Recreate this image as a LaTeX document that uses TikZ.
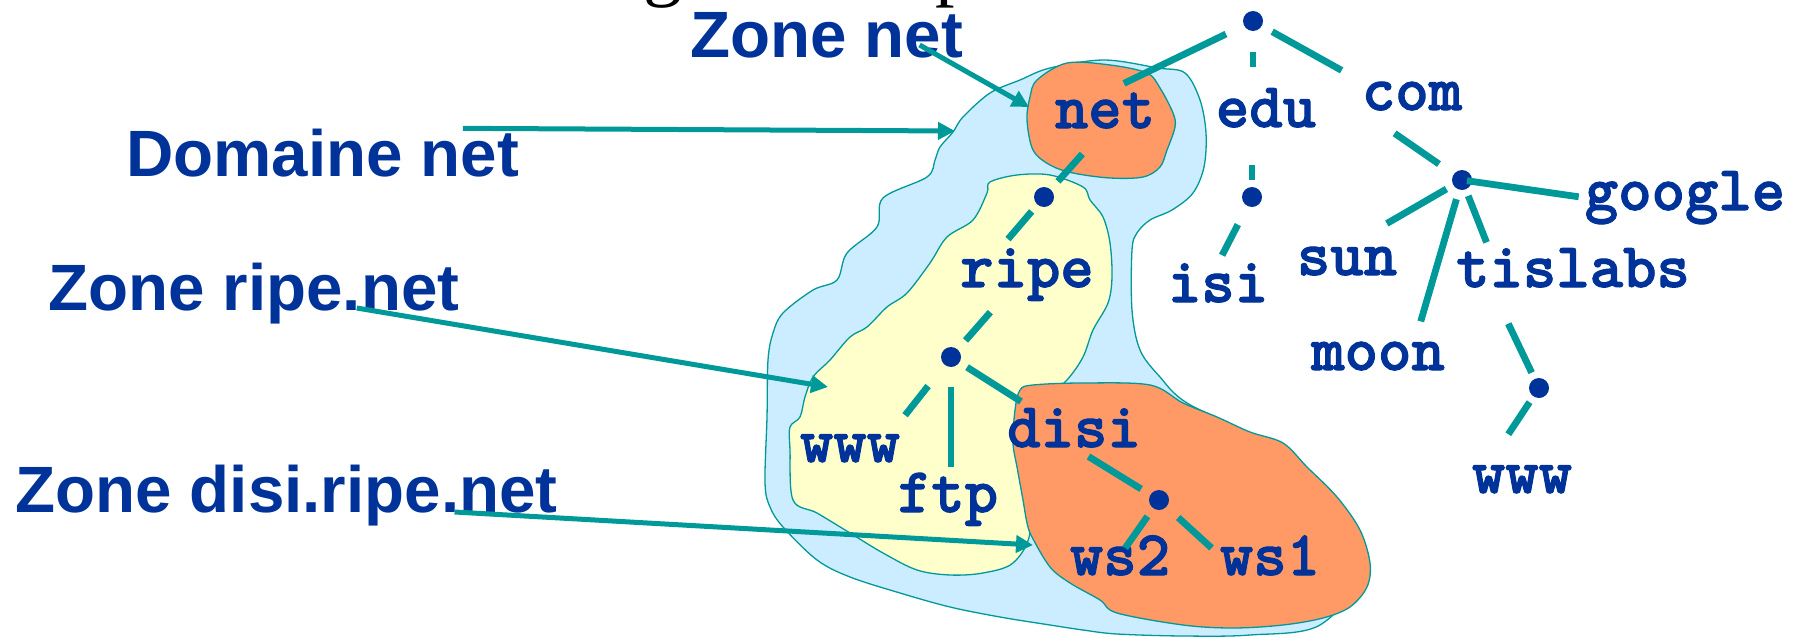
\documentclass[tikz,border=0pt]{standalone}
\usepackage{fontspec}
\newfontfamily\zonefont{Liberation Sans}
\newfontfamily\titlefont{Liberation Serif}
\newfontfamily\hostfont{lmmonolt10-bold.otf}[FakeBold=1.6]
\usetikzlibrary{arrows.meta,calc}
\definecolor{tealline}{HTML}{009999}
\definecolor{navytext}{HTML}{003399}
\definecolor{skyfill}{HTML}{CCECFF}
\definecolor{creamfill}{HTML}{FFFFCC}
\definecolor{salmonfill}{HTML}{FF9966}
\begin{document}
\begin{tikzpicture}[x=1pt,y=-1pt,
  zone/.style={font=\zonefont\bfseries\fontsize{65.5}{70}\selectfont, text=navytext, inner sep=0pt, anchor=base west},
  host/.style={font=\hostfont\fontsize{63.6}{70}\selectfont, text=navytext, inner sep=0pt, anchor=base},
  titlefrag/.style={font=\titlefont\fontsize{78}{80}\selectfont, text=black, inner sep=0pt, anchor=base west},
  dot/.style={circle, fill=navytext, minimum size=20pt, inner sep=0pt},
  branch/.style={draw=tealline, line width=6.8pt},
  pointer/.style={draw=tealline, line width=5pt, -{Triangle[length=17pt,width=17pt]}},
  blob/.style={draw=tealline, line width=1.3pt},
]
\useasboundingbox (0,0) rectangle (1802,637);
\clip (0,0) rectangle (1802,637);
\fill[white] (0,0) rectangle (1802,637);

% heading, only its lower part is inside the frame
\node[titlefrag] (tg) at (643,-9) {g};
\node[titlefrag] (tp) at (935,-9) {p};

% domain net
\filldraw[blob, fill=skyfill] plot[smooth cycle, tension=0.55] coordinates {
  (990,93) (1020,80) (1050,68) (1104,60) (1158,68) (1185,73) (1200,100)
  (1206,133) (1204,167) (1193,193) (1172,210) (1150,220) (1137,233)
  (1132,250) (1132,310) (1140,350) (1160,377) (1187,403) (1260,440)
  (1330,500) (1360,570) (1320,625) (1250,635) (1183,636) (1117,634)
  (1083,630) (1050,625) (1000,617) (950,607) (900,593) (850,577)
  (817,560) (783,527) (770,507) (765,483) (767,417) (768,360) (773,333)
  (783,313) (813,290) (837,280) (847,253) (877,227) (883,198) (927,177)
  (935,160) (940,147) (953,132) (963,117)};
% zone ripe.net
\filldraw[blob, fill=creamfill] plot[smooth cycle, tension=0.55] coordinates {
  (990,182) (1017,175) (1050,175) (1083,187) (1090,200) (1103,217)
  (1110,243) (1112,277) (1108,303) (1093,330) (1083,357) (1067,380)
  (1045,400) (1030,430) (1027,480) (1030,533) (1013,563) (983,573)
  (950,575) (917,570) (883,553) (850,533) (817,513) (793,500) (790,450)
  (790,427) (800,417) (805,397) (813,377) (830,360) (850,337) (867,327)
  (887,307) (907,293) (930,263) (947,237) (973,220) (987,193)};
% zone net
\filldraw[blob, fill=salmonfill] plot[smooth cycle, tension=0.55] coordinates {
  (1027,120) (1030,97) (1037,80) (1067,63) (1110,65) (1147,73) (1160,88)
  (1173,113) (1175,127) (1167,150) (1160,167) (1143,177) (1110,178)
  (1073,173) (1050,165) (1033,150)};
% zone disi.ripe.net
\filldraw[blob, fill=salmonfill] plot[smooth cycle, tension=0.55] coordinates {
  (1020,390) (1033,385) (1083,383) (1150,385) (1183,403) (1217,417)
  (1250,432) (1283,443) (1307,467) (1337,497) (1360,530) (1370,563)
  (1367,587) (1350,607) (1323,618) (1283,625) (1233,628) (1183,625)
  (1117,613) (1100,600) (1070,583) (1050,567) (1032,537) (1027,523)
  (1023,500) (1017,467) (1013,443) (1015,410)};

% zone captions
\node[zone] (zNet)  at (690,57)  {Zone net};
\node[zone] (zDom)  at (126,176) {Domaine net};
\node[zone] (zRipe) at (48,310)  {Zone ripe.net};
\node[zone] (zDisi) at (15,512)  {Zone disi.ripe.net};

% tree: inner nodes
\node[dot] (dRoot) at (1253,21) {};
\node[dot] (dEdu)  at (1252,197) {};
\node[dot] (dCom)  at (1462,180) {};
\node[dot] (dTis)  at (1539,388) {};
\node[dot] (dNet)  at (1044,197) {};
\node[dot] (dRipe) at (951,357) {};
\node[dot] (dDisi) at (1159,500) {};

% tree: names
\node[host] (nNet)    at (1105,128) {net};
\node[host] (nEdu)    at (1266,127) {edu};
\node[host] (nCom)    at (1412,110) {com};
\node[host] (nGoogle) at (1685,210) {google};
\node[host] (nSun)    at (1347,275) {sun};
\node[host] (nTis)    at (1573,287) {tislabs};
\node[host] (nIsi)    at (1218,302) {isi};
\node[host] (nMoon)   at (1378,370) {moon};
\node[host] (nWwwR)   at (1522,493) {www};
\node[host] (nRipe)   at (1027,287) {ripe};
\node[host] (nWwwL)   at (850,462)  {www};
\node[host] (nFtp)    at (948,512)  {ftp};
\node[host] (nDisi)   at (1074,447) {disi};
\node[host] (nWsTwo)  at (1120,575) {ws2};
\node[host] (nWsOne)  at (1270,575) {ws1};

% tree branches
\draw[branch, shorten <=30pt, shorten >=21pt] (dRoot.center) -- (nNet.north);
\draw[branch, shorten <=31pt, shorten >=21pt] (dRoot.center) -- (nEdu.north -| dRoot.center);
\draw[branch, shorten <=22pt, shorten >=23pt] (dRoot.center) -- (nCom.north west);
\draw[branch, shorten <=40pt, shorten >=28pt] (nCom.south west) -- (dCom.center);
\draw[branch, shorten <=5pt, shorten >=6pt] (dCom.center) -- (nGoogle.west);
\draw[branch, shorten <=18pt, shorten >=46pt] (dCom.center) -- (nSun.north);
\draw[branch, shorten <=20pt, shorten >=21pt] (dCom.center) -- ($(nMoon.north)!.55!(nMoon.north east)$);
\draw[branch, shorten <=17pt, shorten >=6pt] (dCom.center) -- ($(nTis.north west)!.14!(nTis.north east)$);
\draw[branch, shorten <=40pt, shorten >=17pt] ($(nTis.south west)!.15!(nTis.south east)$) -- (dTis.center);
\draw[branch, shorten <=17pt, shorten >=37pt] (dTis.center) -- ($(nWwwR.north west)!.16!(nWwwR.north east)$);
\draw[branch, shorten <=37pt, shorten >=17pt] (nEdu.south -| dEdu.center) -- (dEdu.center);
\draw[branch, shorten <=31pt, shorten >=9pt] (dEdu.center) -- (nIsi.north);
\draw[branch, shorten <=34pt, shorten >=21pt] (nNet.south) -- (dNet.center);
\draw[branch, shorten <=19pt, shorten >=12pt] (dNet.center) -- ($(nRipe.north west)!.3!(nRipe.north east)$);
\draw[branch, shorten <=15pt, shorten >=22pt] ($(nRipe.south west)!.3!(nRipe.south east)$) -- (dRipe.center);
\draw[branch, shorten <=37pt, shorten >=24pt] (dRipe.center) -- ($(nWwwL.north west)!.9!(nWwwL.north east)$);
\draw[branch, shorten <=30pt, shorten >=6pt] (dRipe.center) -- (nFtp.north -| dRipe.center);
\draw[branch, shorten <=19pt, shorten >=12pt] (dRipe.center) -- ($(nDisi.north west)!.18!(nDisi.north east)$);
\draw[branch, shorten <=17pt, shorten >=21pt] (nDisi.south) -- (dDisi.center);
\draw[branch, shorten <=20pt, shorten >=9pt] (dDisi.center) -- (nWsTwo.center);
\draw[branch, shorten <=26pt, shorten >=11pt] (dDisi.center) -- (nWsOne.west);

% pointers from captions to the zones
\coordinate (tipNet)  at (1029,107);
\coordinate (tipDom)  at (955,131);
\coordinate (tipRipe) at (828,387);
\coordinate (tipDisi) at (1033,545);
\draw[pointer] ($(zNet.base west)!.84!(zNet.base east)+(0,-12)$) -- (tipNet);
\draw[pointer] ($(zDom.north west)!.856!(zDom.north east)$) -- (tipDom);
\draw[pointer] ($(zRipe.base west)!.75!(zRipe.base east)+(0,-2)$) -- (tipRipe);
\draw[pointer] ($(zDisi.base west)!.81!(zDisi.base east)$) -- (tipDisi);
\end{tikzpicture}
\end{document}
